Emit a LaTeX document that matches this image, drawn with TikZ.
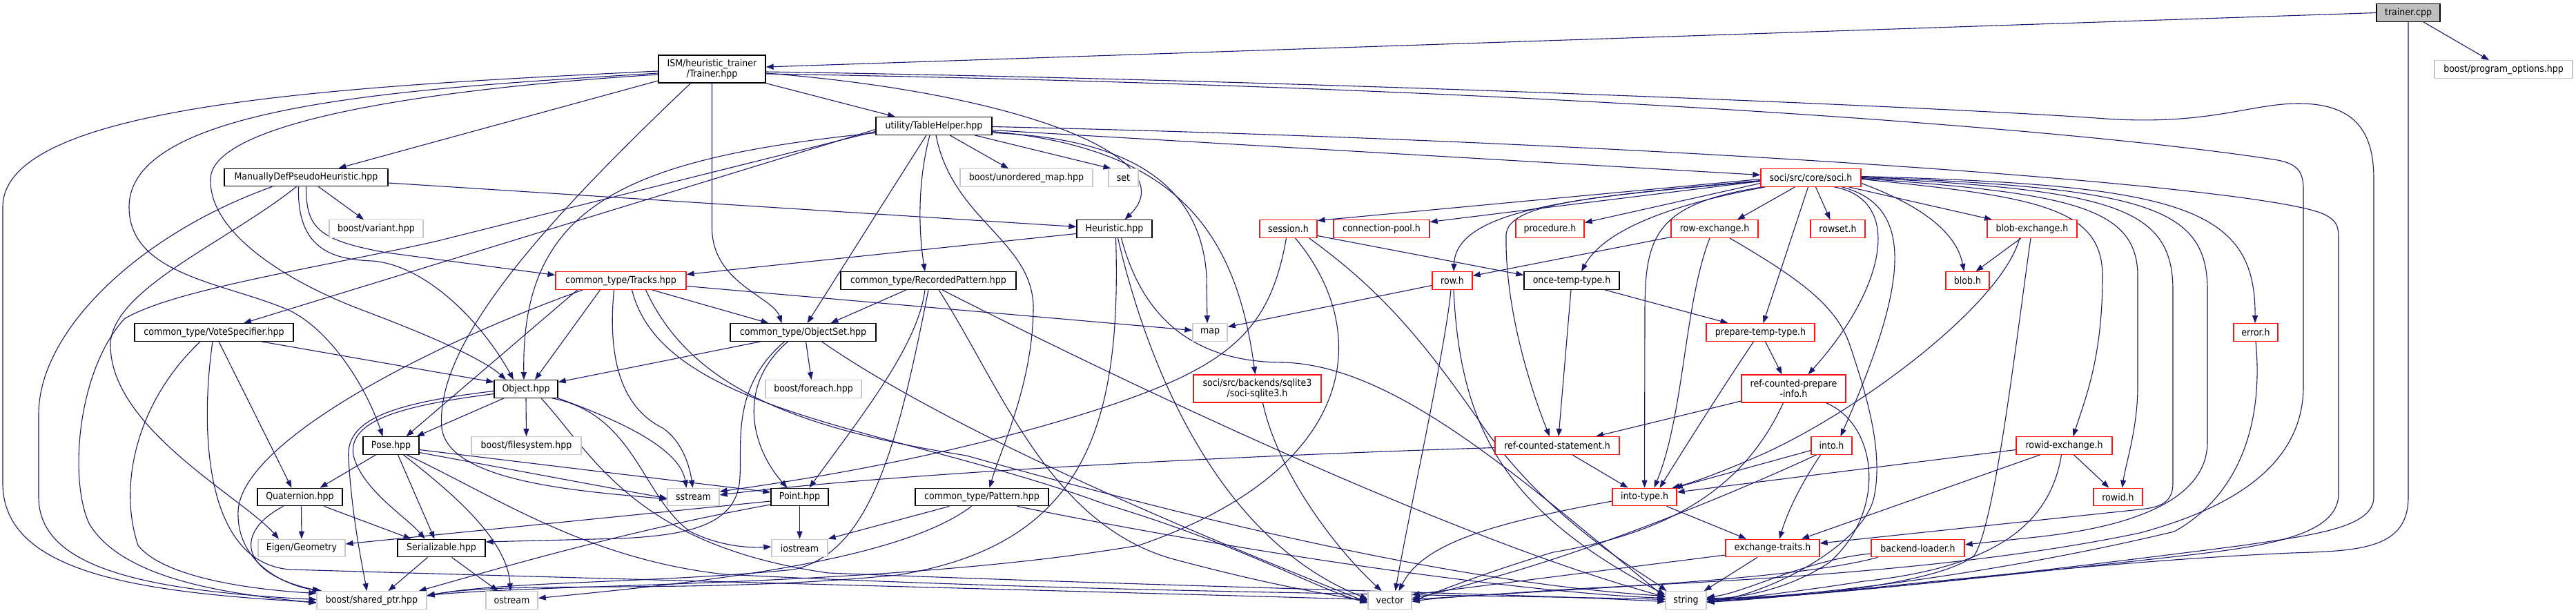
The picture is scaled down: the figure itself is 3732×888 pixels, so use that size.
\documentclass[tikz,border=0pt]{standalone}
\usepackage{fontspec}
\setmainfont{DejaVu Sans Condensed}
\usetikzlibrary{arrows.meta}
\pgfdeclarelayer{background}
\pgfsetlayers{background,main}
\definecolor{edgec}{RGB}{25,25,112}
\definecolor{grayb}{RGB}{200,200,200}
\definecolor{grayf}{RGB}{191,191,191}
\definecolor{redb}{RGB}{255,20,20}
\newcommand\dxfont{\fontsize{14}{15}\selectfont}
\tikzset{
  box/.style={draw, fill=white, rectangle, inner sep=0pt, minimum height=25.5pt, line width=1.3pt, font=\dxfont, align=center},
  bk/.style={box, draw=black},
  gr/.style={box, draw=grayb},
  rd/.style={box, draw=redb},
  mw/.style={minimum width=#1pt},
  edg/.style={draw=edgec, line width=1.1pt, -{Triangle[length=11pt,width=8pt]}},
}
\begin{document}
\begin{tikzpicture}[x=1pt,y=-1pt]
\useasboundingbox (0,0) rectangle (3732,888);
% nodes
\node[bk, mw=92, fill=grayf] (trainer) at (3489,18.5) {trainer.cpp};
\node[gr, mw=200] (progopt) at (3627,100.5) {boost/program\_options.hpp};
\node[bk, mw=155, minimum height=40pt] (trainerhpp) at (1031.5,100) {ISM/heuristic\_trainer\\/Trainer.hpp};
\node[bk, mw=237] (manual) at (443.5,257) {ManuallyDefPseudoHeuristic.hpp};
\node[gr, mw=136] (variant) at (545,331.5) {boost/variant.hpp};
\node[bk, mw=168] (tablehelper) at (1353,182.5) {utility/TableHelper.hpp};
\node[gr, mw=192] (unordered) at (1487,257.5) {boost/unordered\_map.hpp};
\node[gr, mw=43] (set) at (1627.5,257.5) {set};
\node[bk, mw=109] (heuristic) at (1614.5,331.5) {Heuristic.hpp};
\node[rd, mw=145] (soci) at (2623.5,257.5) {soci/src/core/soci.h};
\node[rd, mw=83] (session) at (1866.5,331.5) {session.h};
\node[rd, mw=139] (connpool) at (2001.5,331.5) {connection-pool.h};
\node[rd, mw=99] (procedure) at (2245.5,331.5) {procedure.h};
\node[rd, mw=126] (rowexch) at (2484,331.5) {row-exchange.h};
\node[rd, mw=79] (rowset) at (2662.5,331.5) {rowset.h};
\node[rd, mw=130] (blobexch) at (2944,331.5) {blob-exchange.h};
\node[rd, mw=189] (tracks) at (899.5,406.5) {common\_type/Tracks.hpp};
\node[bk, mw=254] (recpat) at (1345,406.5) {common\_type/RecordedPattern.hpp};
\node[rd, mw=58] (rowh) at (2104,406.5) {row.h};
\node[bk, mw=138] (oncetemp) at (2277,406.5) {once-temp-type.h};
\node[rd, mw=63] (blob) at (2850.5,406.5) {blob.h};
\node[bk, mw=230] (votespec) at (310,481.5) {common\_type/VoteSpecifier.hpp};
\node[bk, mw=211] (objectset) at (1163.5,481.5) {common\_type/ObjectSet.hpp};
\node[gr, mw=50] (map) at (1753,481.5) {map};
\node[rd, mw=157] (preptemp) at (2550.5,481.5) {prepare-temp-type.h};
\node[rd, mw=64] (error) at (3268,481.5) {error.h};
\node[bk, mw=92] (object) at (762,563.5) {Object.hpp};
\node[gr, mw=139] (foreach) at (1178.5,563.5) {boost/foreach.hpp};
\node[rd, mw=185, minimum height=40pt] (sqlite3) at (1821.5,563) {soci/src/backends/sqlite3\\/soci-sqlite3.h};
\node[rd, mw=151, minimum height=40pt] (refprep) at (2598.5,563) {ref-counted-prepare\\-info.h};
\node[bk, mw=81] (pose) at (566.5,645.5) {Pose.hpp};
\node[gr, mw=159] (filesystem) at (762.5,645.5) {boost/filesystem.hpp};
\node[rd, mw=180] (refstmt) at (2256,645.5) {ref-counted-statement.h};
\node[rd, mw=59] (into) at (2653.5,645.5) {into.h};
\node[rd, mw=139] (rowidexch) at (2990.5,645.5) {rowid-exchange.h};
\node[bk, mw=123] (quaternion) at (434.5,720) {Quaternion.hpp};
\node[gr, mw=75] (sstream) at (1004.5,720) {sstream};
\node[bk, mw=83] (point) at (1158.5,720) {Point.hpp};
\node[bk, mw=193] (pattern) at (1422.5,720) {common\_type/Pattern.hpp};
\node[rd, mw=93] (intotype) at (2382.5,720) {into-type.h};
\node[rd, mw=71] (rowid) at (3068.5,720) {rowid.h};
\node[gr, mw=126] (eigen) at (437,794) {Eigen/Geometry};
\node[bk, mw=127] (serializable) at (639.5,794) {Serializable.hpp};
\node[gr, mw=81] (iostream) at (1158.5,794) {iostream};
\node[rd, mw=136] (exchtraits) at (2568,794) {exchange-traits.h};
\node[rd, mw=135] (backend) at (2778.5,794) {backend-loader.h};
\node[gr, mw=159] (sharedptr) at (538.5,869.5) {boost/shared\_ptr.hpp};
\node[gr, mw=75] (ostream) at (741.5,869.5) {ostream};
\node[gr, mw=63] (vector) at (2013.5,869.5) {vector};
\node[gr, mw=59] (string) at (2442.5,869.5) {string};

\begin{pgfonlayer}{background}
\fill[white] (0,0) rectangle (3732,888);
% trainer.cpp
\draw[edg] (trainer.west) -- ([yshift=3pt]trainerhpp.east);
\draw[edg] ([xshift=22pt]trainer.south) -- ([xshift=-21pt]progopt.north);
\draw[edg] (trainer.south) -- (3489,720) .. controls (3489,795) and (3420,798) .. (3320,801) .. controls (3000,815) and (2650,862) .. ([yshift=-3pt]string.east);
% Trainer.hpp
\draw[edg] ([yshift=-17pt]trainerhpp.west) -- ([xshift=47pt]manual.north);
\draw[edg] (trainerhpp.south east) -- ([xshift=-56pt]tablehelper.north);
\draw[edg] ([yshift=-6pt]trainerhpp.east) .. controls (1480,135) and (1720,230) .. ([xshift=15pt]heuristic.north);
\draw[edg] (trainerhpp.south) -- (1031.5,330) .. controls (1031.5,410) and (1120,430) .. ([xshift=-31pt]objectset.north);
\draw[edg] ([yshift=-8pt]trainerhpp.west) .. controls (600,130) and (300,180) .. (305,262) .. controls (305,340) and (420,410) .. (527,450) .. controls (620,485) and (700,520) .. ([xshift=-29pt]object.north);
\draw[edg] ([yshift=-6pt]trainerhpp.west) .. controls (600,128) and (187,150) .. (187,300) .. controls (187,400) and (330,410) .. (420,450) .. controls (480,480) and (530,560) .. ([xshift=-12pt]pose.north);
\draw[edg] ([yshift=-3pt]trainerhpp.west) .. controls (500,125) and (4,150) .. (4,300) -- (4,700) .. controls (4,830) and (200,858) .. ([yshift=-3pt]sharedptr.west);
\draw[edg] ([xshift=-31pt]trainerhpp.south) .. controls (780,330) and (630,500) .. (640,620) .. controls (650,700) and (850,712) .. ([yshift=-3pt]sstream.west);
\draw[edg] ([yshift=-4pt]trainerhpp.east) .. controls (2000,118) and (2900,160) .. (3050,172) .. controls (3200,182) and (3260,150) .. (3330,150) .. controls (3420,150) and (3439,200) .. (3439,260) -- (3439,720) .. controls (3439,765) and (3350,775) .. (3250,790) .. controls (2900,835) and (2620,866) .. ([yshift=1pt]string.east);
\draw[edg] ([yshift=-7pt]trainerhpp.east) .. controls (2200,125) and (3000,185) .. (3300,232) .. controls (3330,238) and (3337,250) .. (3337,275) -- (3337,560) .. controls (3337,690) and (3200,745) .. (3100,772) .. controls (2800,835) and (2400,845) .. (2250,855) .. controls (2150,862) and (2080,866) .. ([yshift=-2pt]vector.east);
% ManuallyDefPseudoHeuristic
\draw[edg] ([yshift=-8pt]manual.east) -- ([yshift=3pt]heuristic.west);
\draw[edg] ([xshift=18pt]manual.south) -- ([xshift=-18pt]variant.north);
\draw[edg] (manual.south) .. controls (443.5,330) and (460,348) .. (560,366) -- ([yshift=8pt]tracks.west);
\draw[edg] ([xshift=-11pt]manual.south) .. controls (430,360) and (480,376) .. (540,378) .. controls (620,385) and (700,470) .. ([xshift=-18pt]object.north);
\draw[edg] ([xshift=-49pt]manual.south) .. controls (200,340) and (56,480) .. (56,600) -- (56,720) .. controls (56,820) and (200,855) .. ([yshift=1pt]sharedptr.west);
\draw[edg] ([xshift=-14pt]manual.south) .. controls (330,350) and (160,420) .. (160,500) .. controls (160,620) and (350,720) .. ([xshift=-33pt]eigen.north);
% TableHelper
\draw[edg] ([yshift=-5pt]tablehelper.west) -- ([xshift=43pt]votespec.north);
\draw[edg] ([yshift=-10pt]tablehelper.west) .. controls (900,230) and (755,300) .. ([xshift=-3pt]object.north);
\draw[edg] ([yshift=-8pt]tablehelper.west) -- (630,350) .. controls (450,390) and (250,420) .. (180,462) .. controls (110,540) and (100,700) .. (130,760) .. controls (180,840) and (330,860) .. ([yshift=-4pt]sharedptr.west);
\draw[edg] ([xshift=-11pt]tablehelper.south) -- ([xshift=6pt]objectset.north);
\draw[edg] ([xshift=-6pt]tablehelper.south) .. controls (1330,260) and (1330,330) .. ([xshift=-5pt]recpat.north);
\draw[edg] ([xshift=3pt]tablehelper.south) .. controls (1380,320) and (1500,350) .. (1497,450) .. controls (1495,560) and (1450,650) .. ([xshift=11pt]pattern.north);
\draw[edg] ([xshift=23pt]tablehelper.south) -- ([xshift=-26pt]unordered.north);
\draw[edg] ([xshift=59pt]tablehelper.south) -- ([xshift=-18pt]set.north);
\draw[edg] ([yshift=-1pt]tablehelper.east) .. controls (2400,205) and (3300,270) .. (3370,312) .. controls (3385,320) and (3388,328) .. (3388,345) -- (3388,715) .. controls (3388,785) and (3250,795) .. (3100,812) .. controls (2800,845) and (2600,866) .. ([yshift=3pt]string.east);
\draw[edg] ([yshift=-6pt]tablehelper.east) -- ([yshift=4pt]soci.west);
\draw[edg] ([yshift=-8pt]tablehelper.east) .. controls (1700,215) and (1790,330) .. ([xshift=-3pt]sqlite3.north);
\draw[edg] ([yshift=-10pt]tablehelper.east) .. controls (1640,200) and (1740,270) .. (1748,400) -- ([xshift=-4pt]map.north);
% Heuristic
\draw[edg] ([yshift=-7pt]heuristic.west) -- ([yshift=9pt]tracks.east);
\draw[edg] ([xshift=2pt]heuristic.south) .. controls (1625,620) and (1570,790) .. (1300,833) .. controls (1000,862) and (750,840) .. ([yshift=7pt]sharedptr.east);
\draw[edg] ([xshift=5pt]heuristic.south) .. controls (1660,520) and (1760,780) .. ([yshift=2pt]vector.west);
\draw[edg] ([xshift=10pt]heuristic.south) .. controls (1660,480) and (1750,525) .. (1860,525) .. controls (2020,530) and (2200,690) .. ([yshift=4pt]string.west);
% Tracks
\draw[edg] ([xshift=-63pt]tracks.south) -- ([xshift=22pt]pose.north);
\draw[edg] ([xshift=-30pt]tracks.south) -- ([xshift=13pt]object.north);
\draw[edg] ([xshift=45pt]tracks.south) -- ([xshift=-50pt]objectset.north);
\draw[edg] ([xshift=-10pt]tracks.south) .. controls (880,520) and (900,590) .. (960,620) .. controls (990,640) and (1000,680) .. ([xshift=-1pt]sstream.north);
\draw[edg] ([yshift=-8pt]tracks.east) -- ([yshift=3pt]map.west);
\draw[edg] ([xshift=-55pt]tracks.south) .. controls (620,500) and (350,640) .. (345,740) .. controls (342,820) and (420,850) .. ([xshift=-72pt]sharedptr.north);
\draw[edg] ([xshift=16pt]tracks.south) .. controls (960,600) and (1300,620) .. (1600,730) .. controls (1800,790) and (1900,850) .. ([yshift=-4pt]vector.west);
\draw[edg] ([xshift=36pt]tracks.south) .. controls (1000,560) and (1150,620) .. (1400,660) .. controls (1900,800) and (2200,850) .. ([yshift=6pt]string.west);
% RecordedPattern
\draw[edg] ([xshift=-32pt]recpat.south) -- ([xshift=40pt]objectset.north);
\draw[edg] ([xshift=-5pt]recpat.south) .. controls (1330,500) and (1250,600) .. ([xshift=14pt]point.north);
\draw[edg] (recpat.south) .. controls (1300,650) and (1260,800) .. (1150,825) .. controls (950,845) and (720,842) .. ([yshift=6pt]sharedptr.east);
\draw[edg] ([xshift=15pt]recpat.south) .. controls (1450,560) and (1520,760) .. (1700,810) .. controls (1850,850) and (1930,862) .. ([yshift=-1pt]vector.west);
\draw[edg] ([xshift=20pt]recpat.south) .. controls (1600,540) and (2100,780) .. ([yshift=5pt]string.west);
% ObjectSet
\draw[edg] ([xshift=-62pt]objectset.south) -- ([yshift=10pt]object.east);
\draw[edg] ([xshift=4pt]objectset.south) -- ([xshift=-3pt]foreach.north);
\draw[edg] ([xshift=-22pt]objectset.south) .. controls (1065,560) and (1090,650) .. ([xshift=-18pt]point.north);
\draw[edg] ([xshift=-27pt]objectset.south) .. controls (1060,560) and (1075,640) .. (1072,690) .. controls (1070,760) and (1000,775) .. (900,780) -- ([yshift=9pt]serializable.east);
\draw[edg] ([xshift=27pt]objectset.south) .. controls (1400,640) and (1800,800) .. ([yshift=-3pt]vector.west);
% Object
\draw[edg] ([xshift=-32pt]object.south) -- ([xshift=-4pt]pose.north east);
\draw[edg] (object.south) -- (filesystem.north);
\draw[edg] (object.south east) .. controls (900,610) and (985,650) .. ([xshift=-10pt]sstream.north);
\draw[edg] ([xshift=38pt]object.south) .. controls (920,600) and (930,720) .. (1000,770) .. controls (1040,790) and (1080,794) .. ([yshift=2pt]iostream.west);
\draw[edg] ([yshift=-3pt]object.west) .. controls (560,585) and (500,610) .. (505,665) .. controls (510,750) and (525,820) .. ([xshift=-7pt]sharedptr.north);
\draw[edg] ([yshift=-7pt]object.west) .. controls (560,590) and (505,615) .. (512,660) .. controls (525,710) and (590,750) .. ([xshift=-24pt]serializable.north);
\draw[edg] ([xshift=22pt]object.south) .. controls (860,660) and (920,790) .. (1200,830) .. controls (1700,850) and (2200,860) .. ([yshift=-2pt]string.west);
% Pose
\draw[edg] ([xshift=-22pt]pose.south) -- ([xshift=29pt]quaternion.north);
\draw[edg] ([xshift=10pt]pose.south) -- ([xshift=-10pt]serializable.north);
\draw[edg] ([yshift=-6pt]pose.east) -- ([yshift=7pt]point.west);
\draw[edg] ([yshift=-10pt]pose.east) -- ([yshift=-2pt]sstream.west);
\draw[edg] ([xshift=18pt]pose.south) .. controls (650,710) and (735,780) .. ([xshift=-2pt]ostream.north);
\draw[edg] ([xshift=23pt]pose.south) .. controls (720,720) and (850,810) .. (1050,832) .. controls (1600,860) and (2200,862) .. ([yshift=1pt]string.west);
% Quaternion
\draw[edg] ([xshift=2pt]quaternion.south) -- (eigen.north);
\draw[edg] ([xshift=35pt]quaternion.south) -- ([xshift=-44pt]serializable.north);
\draw[edg] ([xshift=-24pt]quaternion.south) .. controls (340,770) and (345,830) .. ([xshift=-75pt]sharedptr.north);
% VoteSpecifier
\draw[edg] ([xshift=69pt]votespec.south) -- ([yshift=10pt]object.west);
\draw[edg] ([xshift=7pt]votespec.south) -- ([xshift=-12pt]quaternion.north);
\draw[edg] ([xshift=-20pt]votespec.south) .. controls (200,580) and (170,700) .. (200,790) .. controls (240,840) and (380,855) .. ([yshift=10pt]sharedptr.west);
\draw[edg] ([xshift=-2pt]votespec.south) .. controls (290,620) and (295,815) .. (420,825) .. controls (1000,842) and (1700,860) .. ([yshift=1pt]vector.west);
% Serializable
\draw[edg] ([xshift=-20pt]serializable.south) -- ([xshift=24pt]sharedptr.north);
\draw[edg] ([xshift=15pt]serializable.south) -- ([xshift=-20pt]ostream.north);
% Point
\draw[edg] ([yshift=-6pt]point.west) -- ([yshift=6pt]eigen.east);
\draw[edg] (point.south) -- (iostream.north);
\draw[edg] ([yshift=-11pt]point.west) .. controls (900,770) and (700,830) .. ([xshift=-12pt]sharedptr.north east);
% Pattern
\draw[edg] ([xshift=-47pt]pattern.south) -- (iostream.north east);
\draw[edg] ([xshift=-15pt]pattern.south) .. controls (1300,815) and (1000,845) .. ([yshift=3pt]ostream.east);
\draw[edg] ([xshift=51pt]pattern.south) .. controls (1800,800) and (2200,858) .. ([yshift=3pt]string.west);
% sqlite3
\draw[edg] ([xshift=8pt]sqlite3.south) .. controls (1850,680) and (1930,790) .. ([xshift=-12pt]vector.north);
% soci.h
\draw[edg] ([yshift=-2pt]soci.west) -- ([yshift=12pt]session.east);
\draw[edg] ([yshift=-5pt]soci.west) -- ([yshift=10pt]connpool.east);
\draw[edg] ([yshift=-8pt]soci.west) -- ([yshift=9pt]procedure.east);
\draw[edg] ([xshift=-23pt]soci.south) -- ([xshift=33pt]rowexch.north);
\draw[edg] ([xshift=7pt]soci.south) -- ([xshift=-11pt]rowset.north);
\draw[edg] ([xshift=55pt]soci.south) -- ([xshift=-58pt]blobexch.north);
\draw[edg] ([yshift=-4pt]soci.west) .. controls (2300,285) and (2110,300) .. ([xshift=2pt]rowh.north);
\draw[edg] ([xshift=-66pt]soci.south) .. controls (2400,300) and (2320,340) .. ([xshift=14pt]oncetemp.north);
\draw[edg] ([yshift=-5pt]soci.west) .. controls (2300,285) and (2185,295) .. (2182,340) .. controls (2180,450) and (2220,570) .. ([xshift=-11pt]refstmt.north);
\draw[edg] ([xshift=-70pt]soci.south) .. controls (2400,295) and (2383,340) .. (2383,450) -- (intotype.north);
\draw[edg] ([xshift=-4pt]soci.south) -- ([xshift=4pt]preptemp.north);
\draw[edg] ([xshift=34pt]soci.south) .. controls (2760,290) and (2730,420) .. ([xshift=21pt]refprep.north);
\draw[edg] ([xshift=45pt]soci.south) .. controls (2780,300) and (2760,420) .. ([xshift=13pt]into.north);
\draw[edg] ([yshift=-8pt]soci.east) .. controls (2790,300) and (2835,340) .. ([xshift=-5pt]blob.north);
\draw[edg] ([yshift=-2pt]soci.east) .. controls (2950,285) and (3046,300) .. (3046,400) .. controls (3046,520) and (3020,580) .. ([xshift=13pt]rowidexch.north);
\draw[edg] ([yshift=-1pt]soci.east) .. controls (3000,280) and (3097,300) .. (3097,400) -- (3097,560) .. controls (3097,620) and (3080,670) .. ([xshift=6pt]rowid.north);
\draw[edg] (soci.east) .. controls (3060,275) and (3148,300) .. (3148,420) -- (3148,700) .. controls (3148,728) and (3130,735) .. (3100,738) -- ([yshift=7pt]exchtraits.east);
\draw[edg] ([yshift=1pt]soci.east) .. controls (3110,272) and (3198,300) .. (3198,420) -- (3198,640) .. controls (3198,720) and (3100,762) .. (2950,778) -- ([yshift=5pt]backend.east);
\draw[edg] ([yshift=2pt]soci.east) .. controls (3160,268) and (3268,300) .. ([xshift=-1pt]error.north);
% session.h
\draw[edg] ([yshift=-10pt]session.east) -- ([yshift=8pt]oncetemp.west);
\draw[edg] ([xshift=-3pt]session.south) .. controls (1840,480) and (1780,530) .. (1600,590) .. controls (1400,655) and (1200,690) .. ([yshift=8pt]sstream.east);
\draw[edg] ([xshift=10pt]session.south) .. controls (1990,480) and (1970,680) .. (1650,790) .. controls (1300,850) and (800,845) .. ([yshift=7pt]sharedptr.east);
\draw[edg] ([xshift=30pt]session.south) .. controls (2000,420) and (2060,490) .. (2150,620) .. controls (2250,760) and (2380,830) .. ([xshift=2pt]string.north west);
% row.h
\draw[edg] ([yshift=-7pt]rowh.west) -- ([yshift=8pt]map.east);
\draw[edg] ([xshift=-2pt]rowh.south) .. controls (2095,500) and (2040,750) .. ([xshift=8pt]vector.north);
\draw[edg] ([xshift=2pt]rowh.south) .. controls (2115,620) and (2180,740) .. ([yshift=8pt]string.west);
% once-temp-type.h
\draw[edg] ([xshift=-1pt]oncetemp.south) -- ([xshift=2pt]refstmt.north);
\draw[edg] ([xshift=48pt]oncetemp.south) -- ([xshift=-47pt]preptemp.north);
% row-exchange.h
\draw[edg] ([yshift=-12pt]rowexch.west) -- ([yshift=7pt]rowh.east);
\draw[edg] ([xshift=-7pt]rowexch.south) .. controls (2440,440) and (2440,600) .. ([xshift=14pt]intotype.north);
\draw[edg] ([xshift=22pt]rowexch.south) .. controls (2600,400) and (2660,440) .. (2680,500) .. controls (2700,560) and (2730,650) .. (2715,720) .. controls (2700,790) and (2560,862) .. ([yshift=-2pt]string.east);
% prepare-temp-type.h
\draw[edg] ([xshift=7pt]preptemp.south) -- ([xshift=-17pt]refprep.north);
\draw[edg] ([xshift=-10pt]preptemp.south) .. controls (2490,570) and (2440,650) .. ([xshift=22pt]intotype.north);
% ref-counted-prepare-info.h
\draw[edg] ([yshift=-18pt]refprep.west) -- ([xshift=56pt]refstmt.north);
\draw[edg] ([xshift=-15pt]refprep.south) .. controls (2530,700) and (2430,770) .. (2250,800) .. controls (2150,830) and (2080,858) .. ([yshift=-2pt]vector.east);
\draw[edg] ([xshift=47pt]refprep.south) .. controls (2720,615) and (2735,740) .. (2650,815) .. controls (2590,855) and (2520,866) .. ([yshift=2pt]string.east);
% ref-counted-statement.h
\draw[edg] ([yshift=-3pt]refstmt.west) .. controls (1800,660) and (1300,685) .. ([yshift=3pt]sstream.east);
\draw[edg] ([xshift=22pt]refstmt.south) -- ([xshift=-24pt]intotype.north);
% into-type.h
\draw[edg] ([yshift=-6pt]intotype.west) .. controls (2150,760) and (2060,790) .. ([xshift=13pt]vector.north);
\draw[edg] ([xshift=32pt]intotype.south) -- ([xshift=-38pt]exchtraits.north);
% into.h
\draw[edg] ([yshift=-7pt]into.west) -- ([xshift=-3pt]intotype.north east);
\draw[edg] ([xshift=-22pt]into.south) .. controls (2500,720) and (2300,800) .. (2150,840) .. controls (2100,855) and (2070,862) .. ([yshift=3pt]vector.east);
\draw[edg] ([xshift=-16pt]into.south) .. controls (2610,700) and (2590,740) .. ([xshift=10pt]exchtraits.north);
% rowid-exchange.h
\draw[edg] ([yshift=-6pt]rowidexch.west) -- ([yshift=7pt]intotype.east);
\draw[edg] ([xshift=-35pt]rowidexch.south) -- ([xshift=42pt]exchtraits.north);
\draw[edg] ([xshift=14pt]rowidexch.south) -- ([xshift=-13pt]rowid.north);
\draw[edg] ([xshift=-4pt]rowidexch.south) .. controls (2970,760) and (2890,822) .. (2700,842) .. controls (2600,858) and (2520,866) .. ([yshift=-3pt]string.east);
% exchange-traits.h
\draw[edg] ([xshift=-22pt]exchtraits.south) -- ([xshift=-4pt]string.north east);
\draw[edg] ([yshift=-10pt]exchtraits.west) -- ([yshift=8pt]vector.east);
% backend-loader.h
\draw[edg] ([yshift=-8pt]backend.west) .. controls (2620,810) and (2530,858) .. ([yshift=4pt]string.east);
\draw[edg] ([xshift=-58pt]backend.south) .. controls (2600,840) and (2300,852) .. ([yshift=1pt]vector.east);
% blob-exchange.h
\draw[edg] ([xshift=-16pt]blobexch.south) -- ([xshift=12pt]blob.north);
\draw[edg] ([xshift=-18pt]blobexch.south) .. controls (2900,440) and (2700,590) .. (2560,655) .. controls (2500,682) and (2450,700) .. ([xshift=40pt]intotype.north);
\draw[edg] ([xshift=-2pt]blobexch.south) .. controls (2920,500) and (2890,760) .. (2860,805) .. controls (2800,852) and (2550,868) .. ([yshift=-1pt]string.east);
% error.h
\draw[edg] (error.south) .. controls (3280,620) and (3240,720) .. (3150,770) .. controls (2900,830) and (2620,865) .. ([yshift=1pt]string.east);
\end{pgfonlayer}
\end{tikzpicture}
\end{document}
